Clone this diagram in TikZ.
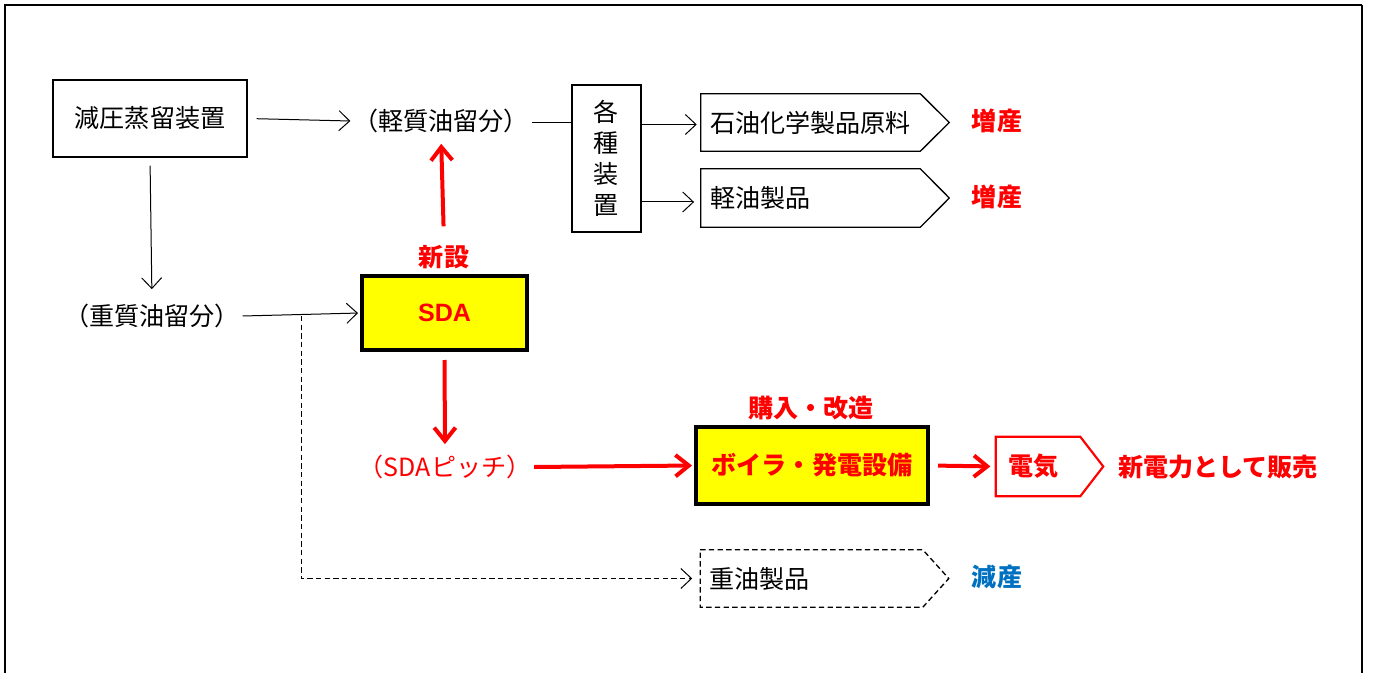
\documentclass[tikz,border=0pt]{standalone}
\usepackage{fontspec}
\setmainfont{Noto Sans CJK JP}
\newfontfamily\latinb{Liberation Sans}
\usetikzlibrary{arrows.meta}
\definecolor{xred}{HTML}{FF0000}
\definecolor{xyellow}{HTML}{FFFF00}
\definecolor{xblue}{HTML}{0070C0}
\begin{document}
\begin{tikzpicture}[x=0.75pt,y=-0.75pt,
  font=\fontsize{18.8pt}{22pt}\selectfont,
  plainbox/.style={draw, line width=1pt, inner sep=0pt},
  lbl/.style={inner sep=2pt},
  arr/.style={line width=0.75pt, -{Straight Barb[length=8pt,width=15pt,line width=0.75pt]}},
  dsh/.style={dash pattern=on 4pt off 2.5pt},
  redarr/.style={draw=xred, line width=3pt, -{Straight Barb[length=10pt,width=16pt,line width=3pt]}},
  redtxt/.style={text=xred, font=\fontsize{18.8pt}{22pt}\selectfont\bfseries, inner sep=2pt},
  bluetxt/.style={text=xblue, font=\fontsize{18.8pt}{22pt}\selectfont\bfseries, inner sep=2pt},
  thickbox/.style={draw=black, fill=xyellow, line width=3pt, inner sep=0pt, text=xred, font=\fontsize{18.8pt}{22pt}\selectfont\bfseries},
  pentnode/.style={inner xsep=6.75pt, inner ysep=0pt, align=left, text width=172.5pt}
]
\useasboundingbox (0,0) rectangle (1373,673);
% frame
\draw[line width=1.5pt] (5,673) -- (5,5.5) -- (1362,5.5);
\draw[line width=2.2pt] (1362,5.5) -- (1362,673);

% nodes
\node[plainbox, minimum width=145.5pt, minimum height=57.75pt] (vac) at (150,118.5) {減圧蒸留装置};
\node[lbl] (light) at (441,121) {（軽質油留分）};
\node[plainbox, minimum width=51.75pt, minimum height=110.25pt, align=center, font=\fontsize{18.8pt}{23.2pt}\selectfont] (units) at (606.5,158.5) {各\\種\\装\\置};
\node[pentnode, minimum height=42.75pt] (p1) at (825,122.5) {石油化学製品原料};
\node[pentnode, minimum height=43.5pt] (p2) at (825,198) {軽油製品};
\node[pentnode, minimum height=42.75pt] (p3) at (824.5,578.5) {重油製品};
\node[redtxt] (inc1) at (997,121) {増産};
\node[redtxt] (inc2) at (997,197) {増産};
\node[bluetxt] (dec) at (997,577) {減産};
\node[lbl] (heavy) at (152,316) {（重質油留分）};
\node[thickbox, minimum width=123.75pt, minimum height=55.5pt] (sda) at (444.5,313) {\latinb\bfseries SDA};
\node[redtxt] (new) at (444,257) {新設};
\node[lbl, text=xred] (pitch) at (445,467) {（SDAピッチ）};
\node[thickbox, minimum width=174pt, minimum height=57.75pt] (boiler) at (812,465.5) {ボイラ・発電設備};
\node[redtxt] (buy) at (811,408) {購入・改造};
\node[redtxt, inner xsep=9pt, inner ysep=0pt, align=left, text width=62.25pt, minimum height=44.25pt] (elec) at (1049.5,466.5) {電気};
\node[redtxt] (sell) at (1218,467) {新電力として販売};

% pentagon outlines
\draw[line width=1pt] (p1.north west) -- ([xshift=-21.75pt]p1.north east) -- (p1.east) -- ([xshift=-21.75pt]p1.south east) -- (p1.south west) -- cycle;
\draw[line width=1pt] (p2.north west) -- ([xshift=-21.75pt]p2.north east) -- (p2.east) -- ([xshift=-21.75pt]p2.south east) -- (p2.south west) -- cycle;
\draw[line width=1pt, dsh] (p3.north west) -- ([xshift=-19.5pt]p3.north east) -- (p3.east) -- ([xshift=-19.5pt]p3.south east) -- (p3.south west) -- cycle;
\draw[xred, line width=1.6pt] (elec.north west) -- ([xshift=-17.25pt]elec.north east) -- (elec.east) -- ([xshift=-17.25pt]elec.south east) -- (elec.south west) -- cycle;

% black connectors
\draw[arr, shorten <=6.75pt] (vac.east) -- (light.west);
\draw[arr, shorten <=6pt, shorten >=9pt] (vac.south) -- (heavy.north);
\draw[line width=0.75pt] ([yshift=-1.5pt]light.east) -- ([yshift=-1.5pt]light.east -| units.west);
\draw[arr, shorten >=3pt] ([yshift=-1.5pt]units.east |- p1.west) -- ([yshift=-1.5pt]p1.west);
\draw[arr, shorten >=5pt] ([yshift=-3pt]units.east |- p2.west) -- ([yshift=-3pt]p2.west);
\coordinate (split) at (301,316);
\draw[arr, shorten >=1.5pt] (heavy.east) -- (sda.west);
\draw[arr, dsh, shorten >=6pt] (split) |- (p3.west);

% red connectors
\draw[redarr, shorten <=12pt, shorten >=6pt] (new.north) -- (light.south);
\draw[redarr, shorten <=6pt, shorten >=6pt] (sda.south) -- (pitch.north);
\draw[redarr, shorten >=1.5pt] (pitch.east) -- (boiler.west);
\draw[redarr, shorten <=6pt, shorten >=4pt] (boiler.east) -- (elec.west);
\end{tikzpicture}
\end{document}
